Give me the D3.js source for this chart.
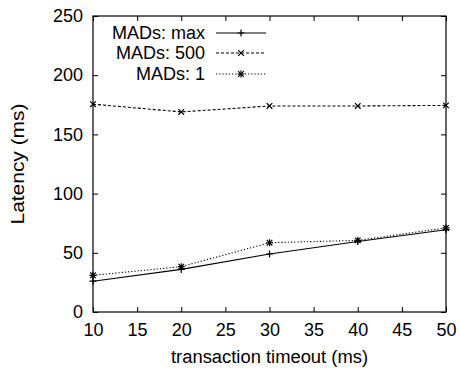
<!DOCTYPE html>
<html>
<head>
<meta charset="utf-8">
<script src="https://cdn.jsdelivr.net/npm/d3@7"></script>
<style>
  body { margin: 0; background: #fff; }
  text { font-family: "Liberation Sans", Arial, sans-serif; fill: #000; }
</style>
</head>
<body>
<div id="app"></div>
<script>
// ----- Data -----
const timeouts = [10, 20, 30, 40, 50];
const madsMax = [26, 36, 49, 59.5, 69.5];
const mads500 = [175.5, 169, 174, 174, 174.5];
const mads1 = [31, 38.3, 58.5, 60.5, 71];
const xTicks = [10, 15, 20, 25, 30, 35, 40, 45, 50];
const yTicks = [0, 50, 100, 150, 200, 250];

const seriesNames = ["MADs: max", "MADs: 500", "MADs: 1"];
const seriesValues = [madsMax, mads500, mads1];

// ----- Layout -----
const W = 460, H = 375;
const plotLeft = 93, plotRight = 446, plotTop = 16, plotBottom = 312;
const dashes = ["none", "3,2", "1.2,2"];
const markers = ["plus", "cross", "star"];

function main() {
    const svg = d3.select("#app").append("svg")
        .attr("width", W)
        .attr("height", H);

    const xScale = d3.scaleLinear().domain([10, 50]).range([plotLeft, plotRight]);
    const yScale = d3.scaleLinear().domain([0, 250]).range([plotBottom, plotTop]);

    // axes, ticks pointing inward, mirrored
    const tl = 5;
    svg.append("g")
        .attr("transform", `translate(0,${plotBottom})`)
        .call(d3.axisBottom(xScale).tickValues(xTicks).tickSize(-tl).tickPadding(11))
        .call(g => g.selectAll("text").attr("font-size", 18).attr("dy", "0.71em"));
    svg.append("g")
        .attr("transform", `translate(0,${plotTop})`)
        .call(d3.axisTop(xScale).tickValues(xTicks).tickSize(-tl).tickFormat(""));
    svg.append("g")
        .attr("transform", `translate(${plotLeft},0)`)
        .call(d3.axisLeft(yScale).tickValues(yTicks).tickSize(-tl).tickPadding(10))
        .call(g => g.selectAll("text").attr("font-size", 18));
    svg.append("g")
        .attr("transform", `translate(${plotRight},0)`)
        .call(d3.axisRight(yScale).tickValues(yTicks).tickSize(-tl).tickFormat(""));

    svg.selectAll(".domain").remove();
    svg.selectAll(".tick line").attr("stroke", "#000");

    svg.append("rect")
        .attr("x", plotLeft).attr("y", plotTop)
        .attr("width", plotRight - plotLeft).attr("height", plotBottom - plotTop)
        .attr("fill", "none").attr("stroke", "#000").attr("stroke-width", 1.2);

    // axis titles
    svg.append("text")
        .attr("x", (plotLeft + plotRight) / 2)
        .attr("y", 363)
        .attr("text-anchor", "middle")
        .attr("font-size", 18)
        .attr("textLength", 197)
        .attr("lengthAdjust", "spacingAndGlyphs")
        .text("transaction timeout (ms)");
    svg.append("text")
        .attr("transform", `translate(24,${(plotTop + plotBottom) / 2}) rotate(-90)`)
        .attr("text-anchor", "middle")
        .attr("font-size", 18)
        .attr("textLength", 121)
        .attr("lengthAdjust", "spacingAndGlyphs")
        .text("Latency (ms)");

    const line = d3.line()
        .x((d, i) => xScale(timeouts[i]))
        .y(d => yScale(d));

    function drawMarker(g, type, cx, cy) {
        const s = 3.5;
        if (type === "plus" || type === "star") {
            g.append("path")
                .attr("d", `M${cx - s},${cy}H${cx + s}M${cx},${cy - s}V${cy + s}`)
                .attr("stroke", "#000").attr("stroke-width", 1.2);
        }
        if (type === "cross" || type === "star") {
            g.append("path")
                .attr("d", `M${cx - s * 0.8},${cy - s * 0.8}L${cx + s * 0.8},${cy + s * 0.8}M${cx - s * 0.8},${cy + s * 0.8}L${cx + s * 0.8},${cy - s * 0.8}`)
                .attr("stroke", "#000").attr("stroke-width", 1.2);
        }
    }

    seriesValues.forEach((vals, k) => {
        const g = svg.append("g");
        g.append("path")
            .datum(vals)
            .attr("d", line)
            .attr("fill", "none")
            .attr("stroke", "#000")
            .attr("stroke-width", 1.1)
            .attr("stroke-dasharray", dashes[k]);
        vals.forEach((v, i) => drawMarker(g, markers[k], xScale(timeouts[i]), yScale(v)));
    });

    // legend
    const legendY = [33, 53, 74];
    seriesNames.forEach((name, k) => {
        const g = svg.append("g");
        g.append("text")
            .attr("x", 205).attr("y", legendY[k])
            .attr("dy", "0.35em")
            .attr("text-anchor", "end")
            .attr("font-size", 18)
            .text(name);
        g.append("line")
            .attr("x1", 216).attr("x2", 266)
            .attr("y1", legendY[k]).attr("y2", legendY[k])
            .attr("stroke", "#000").attr("stroke-width", 1.1)
            .attr("stroke-dasharray", dashes[k]);
        drawMarker(g, markers[k], 241, legendY[k]);
    });
}

main();
</script>
</body>
</html>
